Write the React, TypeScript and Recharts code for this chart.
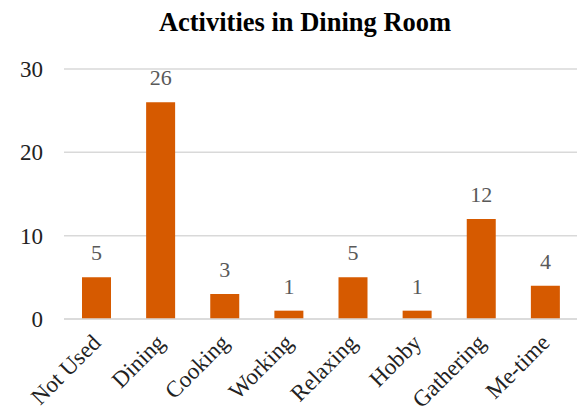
import React from "react";
import { BarChart, Bar, XAxis, YAxis, CartesianGrid, LabelList } from "recharts";

const categories = ["Not Used", "Dining", "Cooking", "Working", "Relaxing", "Hobby", "Gathering", "Me-time"];
const counts = [5, 26, 3, 1, 5, 1, 12, 4];
const yTicks = [0, 10, 20, 30];
const title = "Activities in Dining Room";

const data = categories.map((name, i) => ({ name, value: counts[i] }));

const FONT = "Liberation Serif, Tinos, DejaVu Serif, Noto Serif, serif";

const XTick = (props: any) => {
  const { x, y, payload } = props;
  const tx = x + 6;
  const ty = y + 25;
  return (
    <text
      x={tx}
      y={ty}
      transform={`rotate(-45, ${tx}, ${ty})`}
      textAnchor="end"
      style={{ fontFamily: FONT, fontSize: 23 }}
      fill="#222"
    >
      {payload.value}
    </text>
  );
};

export default function App() {
  return (
    <div style={{ position: "fixed", left: 0, top: 0, width: 578, height: 413, background: "#fff" }}>
      <BarChart
        width={578}
        height={413}
        data={data}
        margin={{ top: 69, right: 1, left: 0, bottom: 0 }}
      >
        <CartesianGrid vertical={false} stroke="#d9d9d9" strokeWidth={1.5} />
        <XAxis
          dataKey="name"
          interval={0}
          height={94}
          axisLine={{ stroke: "#d9d9d9", strokeWidth: 1.5 }}
          tickLine={false}
          tickSize={0}
          tickMargin={0}
          tick={<XTick />}
        />
        <YAxis
          domain={[0, 30]}
          ticks={yTicks}
          width={64}
          axisLine={false}
          tickLine={false}
          tickSize={0}
          tickMargin={21}
          tick={{ fontFamily: FONT, fontSize: 23, fill: "#222" }}
        />
        <Bar dataKey="value" fill="#D65A00" barSize={29} isAnimationActive={false}>
          <LabelList
            dataKey="value"
            position="top"
            offset={17}
            style={{ fontFamily: FONT, fontSize: 22, fill: "#595959" }}
          />
        </Bar>
      </BarChart>
      <svg width={578} height={50} style={{ position: "absolute", left: 0, top: 0 }}>
        <text
          x={305}
          y={30.7}
          textAnchor="middle"
          style={{ fontFamily: FONT, fontWeight: "bold", fontSize: 26.5 }}
          fill="#000"
        >
          {title}
        </text>
      </svg>
    </div>
  );
}
